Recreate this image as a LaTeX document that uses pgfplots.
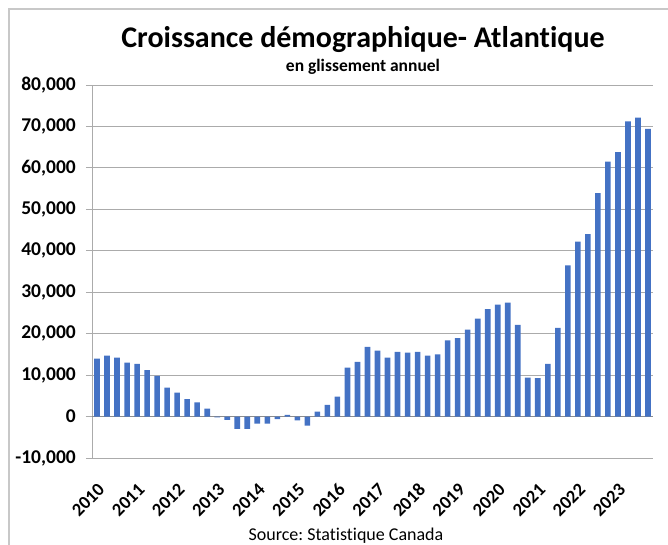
\documentclass[border=0pt]{standalone}
\usepackage{pgfplots}
\pgfplotsset{compat=1.18}
\usepackage{fontspec}
\setmainfont{Carlito}[Ligatures=NoCommon]
\frenchspacing
\definecolor{barblue}{HTML}{4472C4}
\definecolor{gridgray}{HTML}{ABABAB}
\definecolor{zerogray}{HTML}{8C8C8C}
\definecolor{framegray}{HTML}{C8C8C8}
\begin{document}
\begin{tikzpicture}[x=1pt,y=1pt]
\path[use as bounding box] (0,0) rectangle (668,544);
\draw[framegray, line width=1.3pt] (9,-5) -- (9,535) -- (680,535);
\begin{axis}[
  at={(92pt,86pt)}, anchor=south west,
  scale only axis, width=561pt, height=373pt,
  xmin=-0.5, xmax=55.5, ymin=-10000, ymax=80000,
  ybar, bar width=0.56,
  ytick={-10000,0,...,80000},
  scaled y ticks=false,
  xtick={0,4,...,52},
  xticklabels={2010,2011,2012,2013,2014,2015,2016,2017,2018,2019,2020,2021,2022,2023},
  axis y line*=left, axis x line*=bottom,
  x axis line style={draw=none},
  y axis line style={draw=gridgray, line width=0.9pt},
  xtick style={draw=none},
  ytick style={draw=gridgray, line width=0.9pt},
  tick align=outside, major tick length=6pt,
  ymajorgrids, grid style={gridgray, line width=0.9pt},
  extra y ticks={0}, extra y tick labels={},
  extra y tick style={grid style={zerogray, line width=0.9pt}},
  yticklabel style={font=\fontsize{19.5}{21}\selectfont\bfseries, inner sep=0pt, xshift=-10pt,
     /pgf/number format/.cd, 1000 sep={,}, assume math mode=true},
  xticklabel style={font=\fontsize{18.5}{20}\selectfont\bfseries, rotate=45, anchor=north east, inner sep=0pt},
  xticklabel shift=18pt,
  clip=false,
]
\addplot[fill=barblue, draw=none] coordinates {
(0,14000) (1,14700) (2,14200) (3,13000) (4,12700) (5,11200) (6,9800) (7,7000)
(8,5800) (9,4200) (10,3400) (11,1900) (12,-200) (13,-800) (14,-3000) (15,-3000)
(16,-1700) (17,-1700) (18,-600) (19,400) (20,-900) (21,-2200) (22,1200) (23,2800)
(24,4800) (25,11800) (26,13200) (27,16800) (28,15900) (29,14200) (30,15600) (31,15400)
(32,15600) (33,14700) (34,15000) (35,18400) (36,18900) (37,21000) (38,23600) (39,25900)
(40,27000) (41,27500) (42,22100) (43,9400) (44,9300) (45,12700) (46,21400) (47,36500)
(48,42200) (49,44000) (50,53900) (51,61500) (52,63800) (53,71200) (54,72100) (55,69400)
};
\end{axis}
\node[anchor=base, font=\fontsize{30}{33}\selectfont\bfseries] at (363,496) {Croissance démographique- Atlantique};
\node[anchor=base, font=\fontsize{17.5}{20}\selectfont\bfseries] at (363,472) {en glissement annuel};
\node[anchor=base, font=\fontsize{18}{20}\selectfont] at (346,3.5) {Source: Statistique Canada};
\end{tikzpicture}
\end{document}
